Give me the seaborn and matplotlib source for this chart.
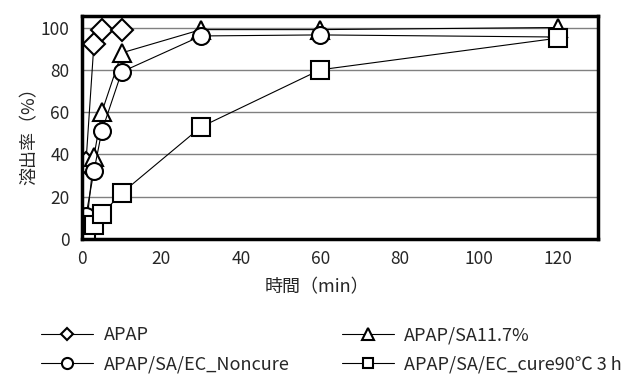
#!/usr/bin/env python3
"""Dissolution profile: 溶出率 vs 時間 for four APAP formulations."""

import matplotlib
matplotlib.use("Agg")
import matplotlib.pyplot as plt
from matplotlib.lines import Line2D
import pandas as pd
import seaborn as sns

TIME_MIN = [1, 3, 5, 10, 30, 60, 120]

APAP = [36, 92, 99, 99]
APAP_SA = [4, 39, 60, 88, 99, 99, 100]
APAP_SA_EC_NONCURE = [11, 32, 51, 79, 96, 96.5, 95.5]
APAP_SA_EC_CURE = [2.5, 6.6, 11.8, 21.7, 53, 80, 95]

SERIES = [
    ("APAP", APAP, "D", 11, 6.5),
    ("APAP/SA11.7%", APAP_SA, "^", 13, 8),
    ("APAP/SA/EC_Noncure", APAP_SA_EC_NONCURE, "o", 12.2, 8),
    ("APAP/SA/EC_cure90℃ 3 h", APAP_SA_EC_CURE, "s", 12.5, 7.2),
]

X_TICKS = [0, 20, 40, 60, 80, 100, 120]
Y_TICKS = [0, 20, 40, 60, 80, 100]


def main():
    sns.set_style("white")
    plt.rcParams["font.family"] = ["Noto Sans CJK JP", "DejaVu Sans"]
    plt.rcParams["font.size"] = 12.5

    fig = plt.figure(figsize=(6.38, 3.74), dpi=100)
    ax = fig.add_axes([0.1285, 0.361, 0.8088, 0.596])

    handles = []
    for name, values, marker, ms, legend_ms in SERIES:
        df = pd.DataFrame({"time": TIME_MIN[:len(values)], "rate": values})
        sns.lineplot(
            data=df, x="time", y="rate", ax=ax, color="black", linewidth=0.8,
            marker=marker, markersize=ms, markerfacecolor="white",
            markeredgecolor="black", markeredgewidth=1.5, sort=False,
        )
        handles.append(Line2D([], [], color="black", linewidth=0.8, marker=marker,
                              markersize=legend_ms, markerfacecolor="white",
                              markeredgecolor="black", markeredgewidth=1.5, label=name))

    ax.set_xlim(0, 130)
    ax.set_ylim(0, 105.4)
    ax.set_xticks(X_TICKS)
    ax.set_yticks(Y_TICKS)
    ax.yaxis.grid(True, color="#808080", linewidth=1)
    ax.set_axisbelow(True)
    for spine in ax.spines.values():
        spine.set_color("black")
        spine.set_linewidth(2.5)
    ax.tick_params(axis="x", direction="in", length=4, width=1, color="black", pad=8)
    ax.tick_params(axis="y", length=0, pad=9)

    ax.set_xlabel("時間（min）", fontsize=13)
    ax.xaxis.set_label_coords(0.455, -0.175)
    ax.set_ylabel("溶出率（%）", fontsize=13)
    ax.yaxis.set_label_coords(-0.085, 0.48)

    # legend order: column-wise fill -> APAP, Noncure | SA11.7%, cure
    order = [handles[0], handles[2], handles[1], handles[3]]
    fig.legend(handles=order, loc="upper left", bbox_to_anchor=(0.039, 0.171),
               ncol=2, frameon=False, handlelength=2.9, columnspacing=2.9,
               labelspacing=0.62, handletextpad=0.55, fontsize=13)

    fig.savefig("out.png", dpi=100)


if __name__ == "__main__":
    main()
